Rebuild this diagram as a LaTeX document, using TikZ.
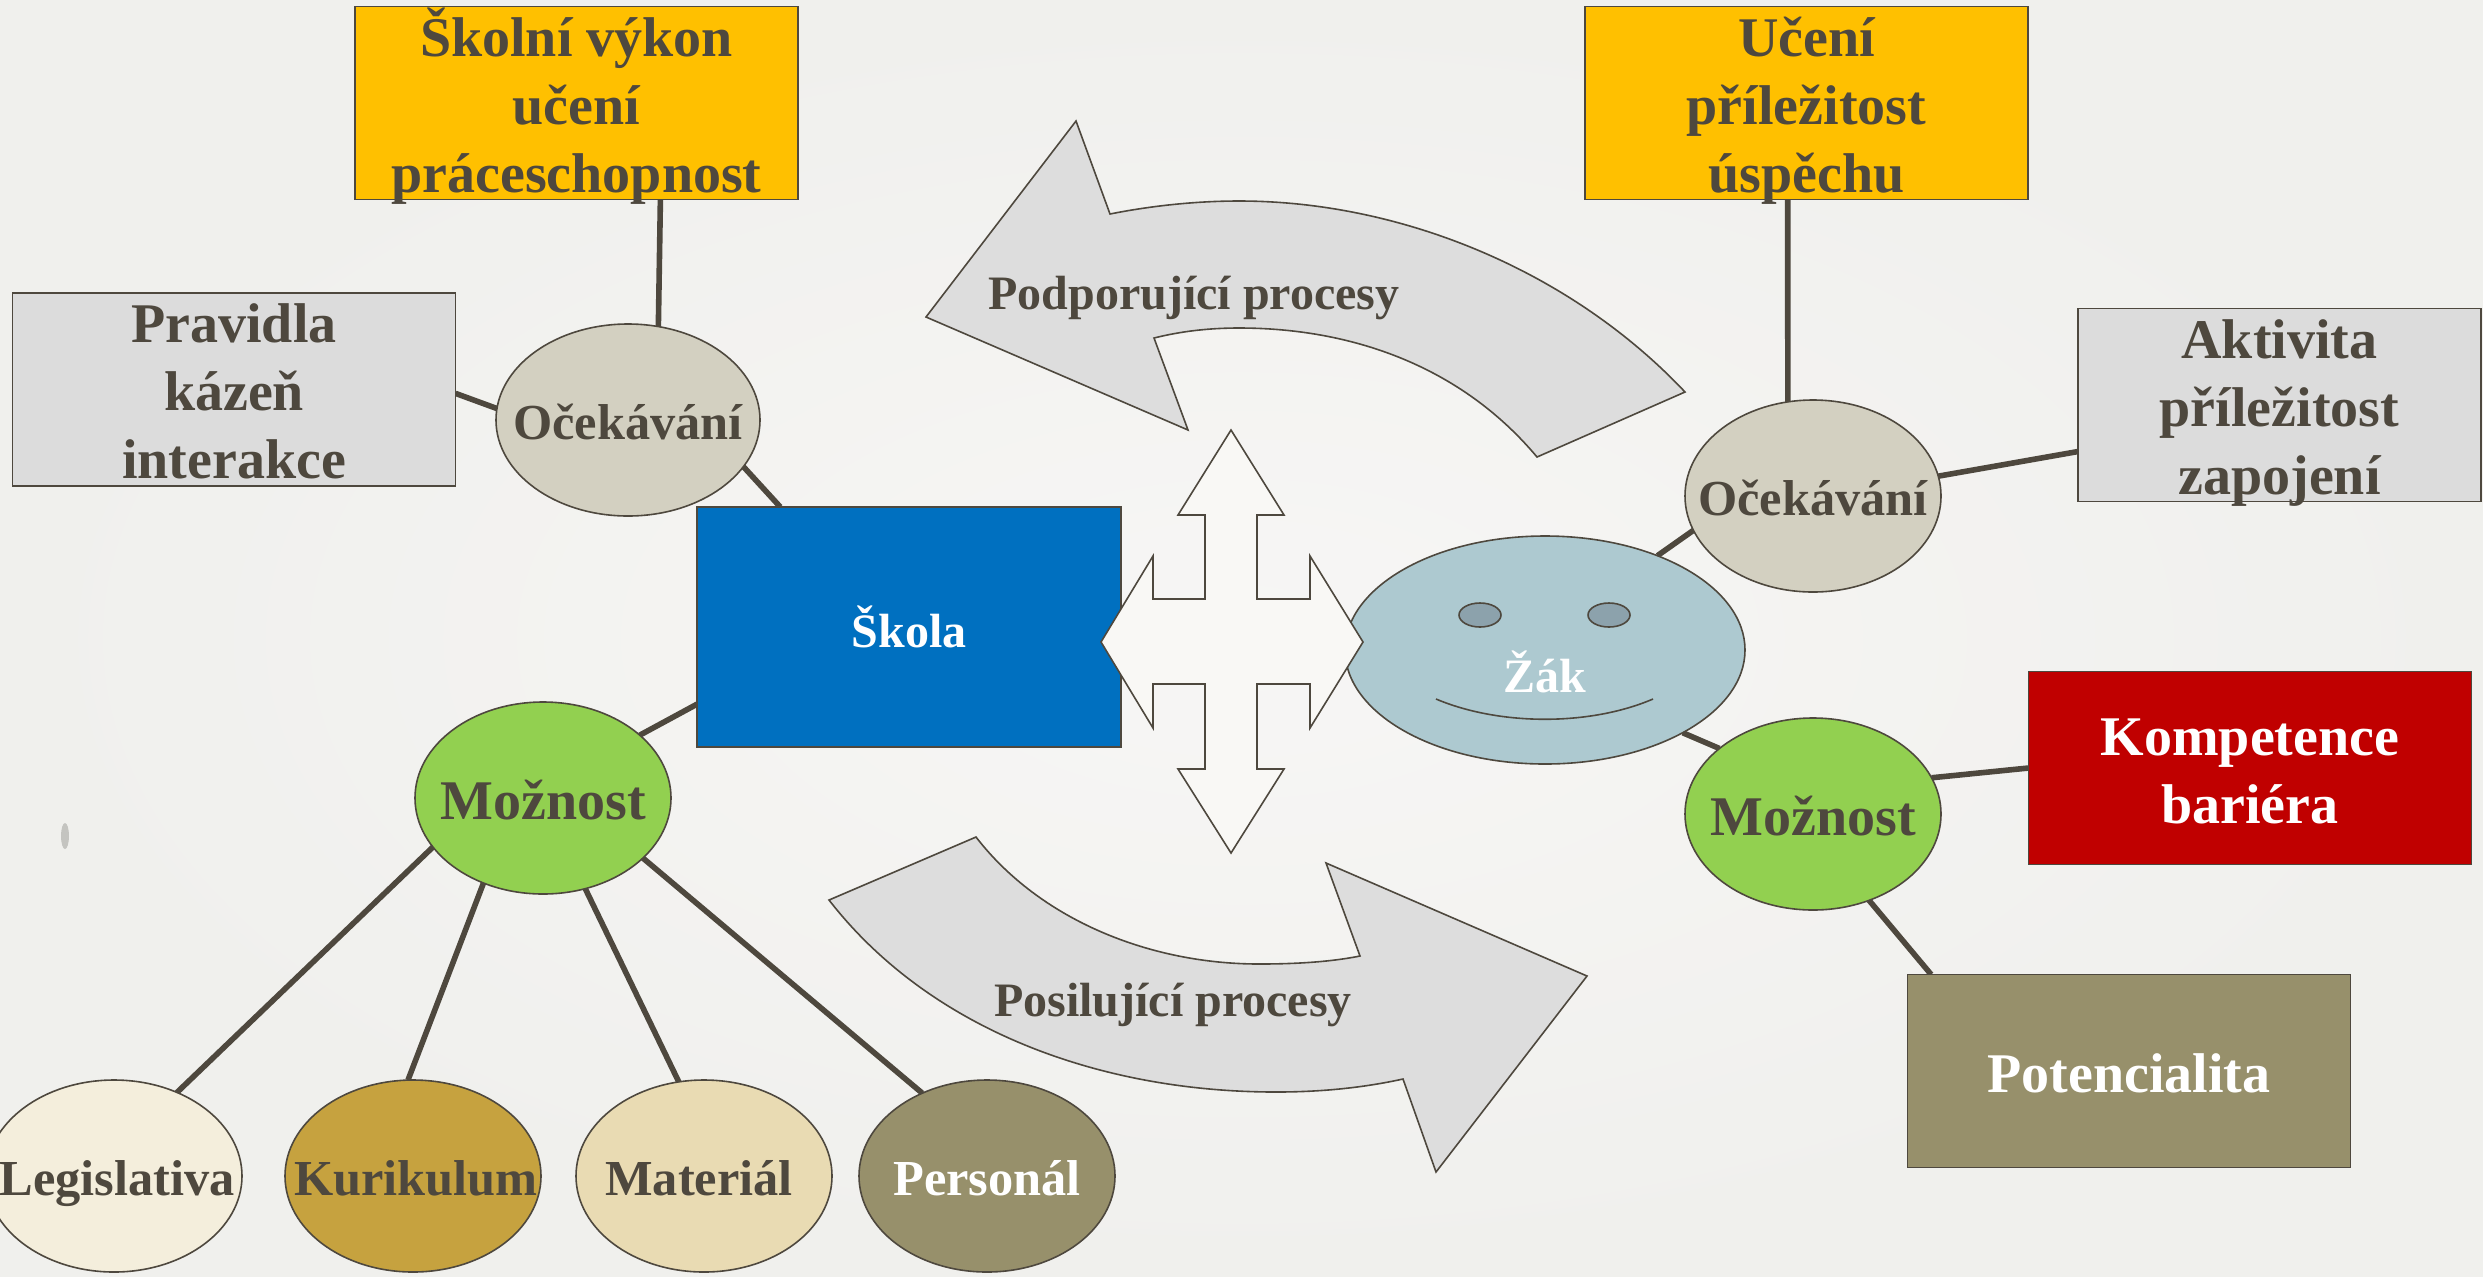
\documentclass[tikz,border=0pt]{standalone}
\usepackage{fontspec}
\setmainfont{Liberation Serif}
\usetikzlibrary{shapes.geometric,backgrounds}
\definecolor{paper}{HTML}{F7F6F5}
\definecolor{paperedge}{HTML}{F0F0ED}
\definecolor{speck}{HTML}{C4C4C0}
\definecolor{ink}{HTML}{4E483E}
\definecolor{gold}{HTML}{FFC000}
\definecolor{greybox}{HTML}{DCDCDC}
\definecolor{arrowgrey}{HTML}{DDDDDD}
\definecolor{blueb}{HTML}{0070C0}
\definecolor{redb}{HTML}{C00000}
\definecolor{olive}{HTML}{97906B}
\definecolor{greenb}{HTML}{92D050}
\definecolor{stone}{HTML}{D3D0C1}
\definecolor{sky}{HTML}{ADC9D0}
\definecolor{eye}{HTML}{8CA2AC}
\definecolor{cream}{HTML}{F4EEDC}
\definecolor{ochre}{HTML}{C6A23F}
\definecolor{sand}{HTML}{E9DBB3}
\definecolor{crossw}{HTML}{F9F8F5}
\newcommand{\boxlines}[1]{\smash{\raisebox{-10pt}{\begin{tabular}{@{}c@{}}#1\end{tabular}}}}
\newcommand{\ovaltext}[1]{\smash{\raisebox{-10.5pt}{\makebox[0pt]{#1}}}}
\newcommand{\ovallow}[1]{\smash{\raisebox{-9.5pt}{\makebox[0pt]{#1}}}}
\tikzset{
  base/.style={draw=ink,line width=0.8pt,inner sep=0pt,outer sep=0pt,text=ink,font=\fontsize{28}{34}\selectfont\bfseries,align=center},
  boxn/.style={base,rectangle,minimum width=221.5pt,minimum height=96.5pt},
  oval/.style={base,ellipse,minimum width=128pt,minimum height=96pt},
  ovalsmall/.style={oval,font=\fontsize{25.2}{30}\selectfont\bfseries},
  link/.style={draw=ink,line width=2.8pt},
  shape line/.style={draw=ink,line width=0.8pt},
  smalltext/.style={inner sep=0pt,text=ink,font=\fontsize{24}{28}\selectfont\bfseries}
}
\begin{document}
\begin{tikzpicture}[x=0.5pt,y=-0.5pt]
\useasboundingbox (0,0) rectangle (2483,1276);
\clip (0,0) rectangle (2483,1276);
% rectangles
\node[boxn,fill=gold] (skolni) at (576.5,103) {\boxlines{Školní výkon\\učení\\práceschopnost}};
\node[boxn,fill=gold] (uceni) at (1806.5,103) {\boxlines{Učení\\příležitost\hspace{8pt}\\úspěchu}};
\node[boxn,fill=greybox] (pravidla) at (234,389.5) {\boxlines{Pravidla\\kázeň\\interakce}};
\node[boxn,fill=greybox,minimum width=201.5pt] (aktivita) at (2279.5,405) {\boxlines{Aktivita\\příležitost\\zapojení}};
\node[boxn,fill=blueb,minimum width=212pt,minimum height=120pt,text=white,font=\fontsize{24}{28}\selectfont\bfseries] (skola) at (909,627) {Škola};
\node[boxn,fill=redb,text=white] (kompetence) at (2250,768) {\boxlines{Kompetence\\bariéra}};
\node[boxn,fill=olive,text=white] (potencialita) at (2129,1071) {\ovaltext{Potencialita}};
% ellipses
\node[ovalsmall,fill=stone,minimum width=132pt] (ocL) at (628,420) {\ovallow{Očekávání}};
\node[ovalsmall,fill=stone] (ocR) at (1813,496) {\ovallow{Očekávání}};
\node[oval,fill=greenb] (mozL) at (543,798) {\ovaltext{Možnost}};
\node[oval,fill=greenb] (mozR) at (1813,814) {\ovaltext{Možnost}};
\node[ovalsmall,fill=cream] (legis) at (114,1176) {\ovallow{\hspace{3pt}Legislativa}};
\node[ovalsmall,fill=ochre] (kuri) at (413,1176) {\ovallow{\hspace{3pt}Kurikulum}};
\node[ovalsmall,fill=sand] (mater) at (704,1176) {\ovallow{Materiál\hspace{5pt}}};
\node[ovalsmall,fill=olive,text=white] (perso) at (987,1176) {\ovallow{Personál}};
\node[base,ellipse,minimum width=200pt,minimum height=114pt,fill=sky,text=white,font=\fontsize{24}{28}\selectfont\bfseries] (zak) at (1545,650) {\smash{\raisebox{-21pt}{\makebox[0pt]{Žák}}}};
% face
\node[base,ellipse,minimum width=21pt,minimum height=12pt,fill=eye] (eyeL) at (1480,615) {};
\node[base,ellipse,minimum width=21pt,minimum height=12pt,fill=eye] (eyeR) at (1609,615) {};
\draw[shape line] (1436,699) .. controls (1500,726) and (1590,726) .. (1653,699);
% paper and connectors
\begin{scope}[on background layer]
\shade[inner color=paper,outer color=paperedge] (0,0) rectangle (2483,1276);
\fill[speck] (65,836) ellipse (4 and 13);
\draw[link] (skolni.-49) -- (ocL.72);
\draw[link] (pravidla.-1) -- (ocL.175);
\draw[link] (ocL.-22) -- (skola.137);
\draw[link] (mozL.33) -- (skola.200);
\draw[link] (mozL.204) -- (legis.53);
\draw[link] (mozL.235) -- (kuri.93);
\draw[link] (mozL.-65) -- (mater.105);
\draw[link] (mozL.-31) -- (perso.128);
\draw[link] (uceni.259) -- (ocR.105);
\draw[link] (aktivita.193) -- (ocR.9);
\draw[link] (ocR.196) -- (zak.40);
\draw[link] (mozR.145) -- (zak.-31);
\draw[link] (mozR.17) -- (kompetence.180);
\draw[link] (mozR.-57) -- (potencialita.154);
\end{scope}
% curved arrows
\path[shape line,fill=arrowgrey] (1076,121) -- (1110,214) .. controls (1150,206) and (1195,201) .. (1239,201) .. controls (1400,201) and (1570,270) .. (1685,392) -- (1537,457) .. controls (1460,365) and (1350,328) .. (1239,328) .. controls (1210,328) and (1182,331) .. (1154,338) -- (1188,430) -- (926,317) -- cycle;
\path[shape line,fill=arrowgrey] (976,837) .. controls (1040,920) and (1150,964) .. (1259,964) .. controls (1295,964) and (1330,962) .. (1360,956) -- (1326,863) -- (1587,976) -- (1436,1172) -- (1403,1079) .. controls (1362,1088) and (1320,1092) .. (1276,1092) .. controls (1100,1092) and (930,1030) .. (829,900) -- cycle;
\node[smalltext] (podp) at (1194,298) {Podporující procesy};
\node[smalltext] (posi) at (1173,1005) {Posilující procesy};
% cross
\path[shape line,fill=crossw] (1231,430) -- (1284,515) -- (1257,515) -- (1257,599) -- (1310,599) -- (1310,556) -- (1363,642) -- (1310,728) -- (1310,684) -- (1257,684) -- (1257,769) -- (1284,769) -- (1231,853) -- (1178,769) -- (1205,769) -- (1205,684) -- (1153,684) -- (1153,728) -- (1101,642) -- (1153,556) -- (1153,599) -- (1205,599) -- (1205,515) -- (1178,515) -- cycle;
\end{tikzpicture}
\end{document}
